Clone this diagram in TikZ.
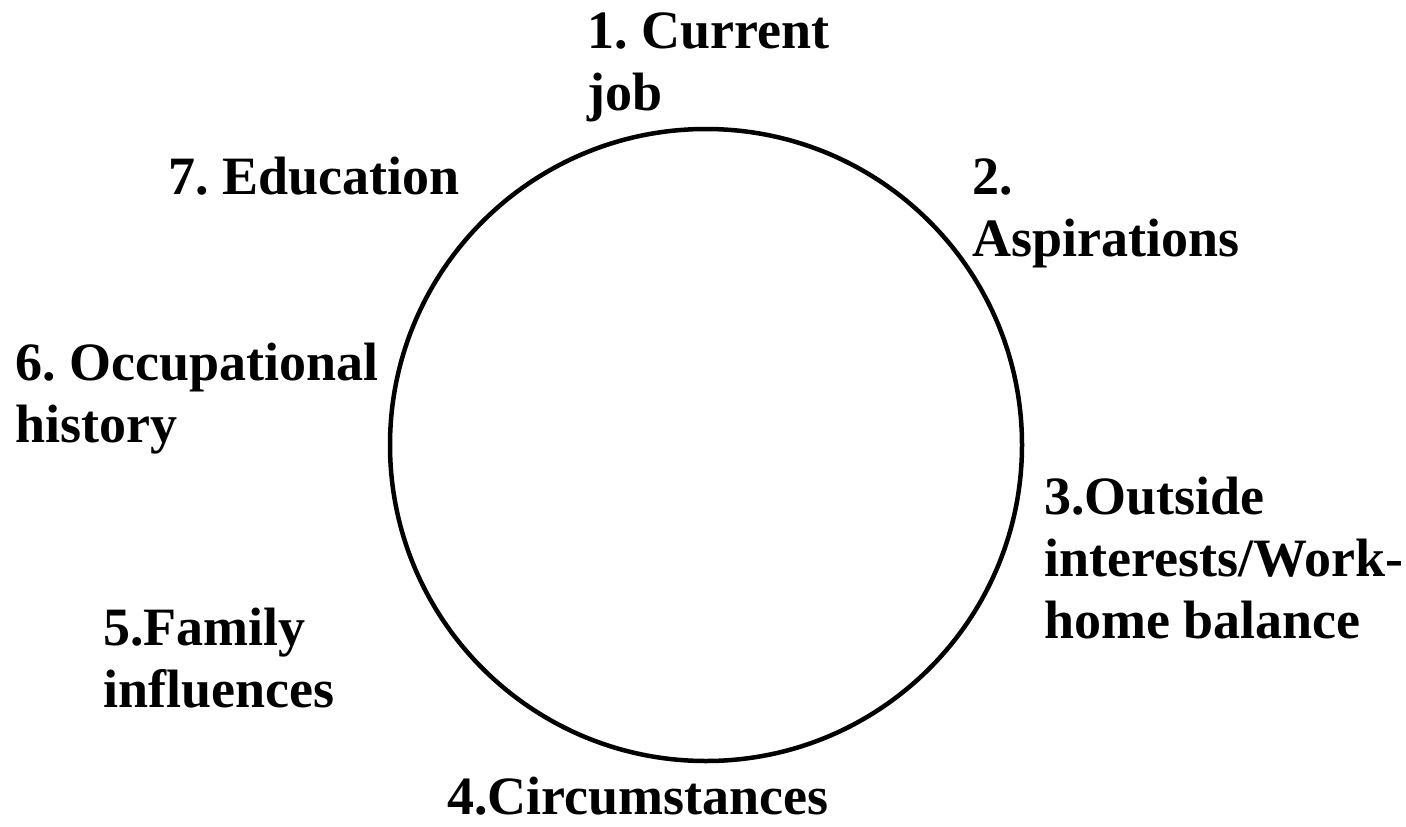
\documentclass[tikz,border=0pt]{standalone}
\usepackage{fontspec}
\setmainfont{Liberation Serif}
\begin{document}
\frenchspacing
\begin{tikzpicture}[x=1pt,y=-1pt,
  % multi-line labels: the base anchor sits on the last line
  lbl/.style={anchor=base west, inner sep=0pt, align=left,
    font=\fontsize{54}{62}\selectfont\bfseries\frenchspacing}]
  \useasboundingbox (0,0) rectangle (1406,827);
  % central circle
  \node[draw, line width=4.5pt, circle, minimum size=632pt, inner sep=0pt] (ring) at (706,445) {};
  % labels around the circle
  \node[lbl] (job)  at (587,110)  {1. Current\\job};
  \node[lbl] (asp)  at (972,256)  {2.\\Aspirations};
  \node[lbl] (out)  at (1044,638) {3.Outside\\interests/Work-\\home balance};
  \node[lbl] (circ) at (447,814)  {4.Circumstances};
  \node[lbl] (fam)  at (103,707)  {5.Family\\influences};
  \node[lbl] (occ)  at (15,442)   {6. Occupational\\history};
  \node[lbl] (edu)  at (168,194)  {7. Education};
\end{tikzpicture}
\end{document}
